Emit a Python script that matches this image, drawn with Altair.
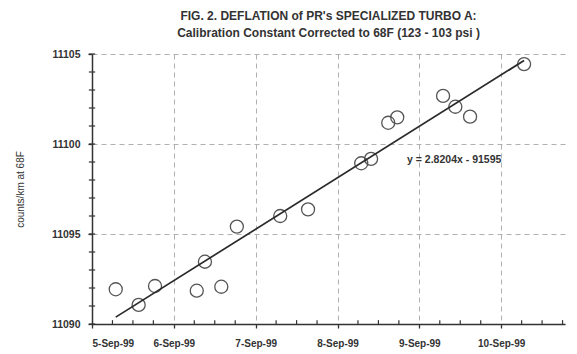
import altair as alt
import pandas as pd

# Day of September 1999 (fractional) and calibration constant (counts/km at 68F)
days = [5.29, 5.57, 5.77, 6.28, 6.38, 6.58, 6.77, 7.30, 7.64,
        8.29, 8.41, 8.62, 8.73, 9.29, 9.44, 9.62, 10.28]
counts = [11091.93, 11091.06, 11092.11, 11091.85, 11093.46, 11092.07, 11095.41,
          11096.00, 11096.37, 11098.93, 11099.17, 11101.18, 11101.48,
          11102.67, 11102.07, 11101.52, 11104.44]

x_major = [5, 6, 7, 8, 9, 10]
x_minor = [d + q for d in range(5, 11) for q in (0.25, 0.5, 0.75)]
y_major = [11090, 11095, 11100, 11105]
y_minor = list(range(11090, 11106))
x_min, x_max = 5, 10.78
y_min, y_max = 11090, 11105

title_lines = ["FIG. 2. DEFLATION of PR's SPECIALIZED TURBO A:",
               "Calibration Constant Corrected to 68F (123 - 103 psi )"]
eq_label = ["y = 2.8204x - 91595"]
eq_x = [8.85]
eq_y = [11099.1]

df = pd.DataFrame({"day": days, "val": counts})
eq_df = pd.DataFrame({"day": eq_x, "val": eq_y, "label": eq_label})
xt = [v for v in x_minor if v < x_max]
xtick_df = pd.DataFrame({"day": xt, "val": [y_min] * len(xt)})
ytick_df = pd.DataFrame({"day": [x_min] * len(y_minor), "val": y_minor})

FONT = "Liberation Sans"
INK = "#333333"

xscale = alt.Scale(domain=[x_min, x_max], nice=False, zero=False)
yscale = alt.Scale(domain=[y_min, y_max], nice=False, zero=False)

xaxis = alt.Axis(values=x_major, labelExpr="datum.value + '-Sep-99'",
                 title=None, grid=True, gridDash=[5, 4], gridColor="#b0b0b0",
                 domainColor=INK, domainWidth=1.5, tickColor=INK, tickWidth=1.3,
                 tickSize=4, labelPadding=10, labelFontSize=10, labelFontWeight="bold",
                 labelColor=INK, labelFont=FONT, orient="bottom")
yaxis = alt.Axis(values=y_major, format="d", title="counts/km at 68F",
                 grid=True, gridDash=[5, 4], gridColor="#b0b0b0",
                 domainColor=INK, domainWidth=1.5, tickColor=INK, tickWidth=1.3,
                 tickSize=4, labelPadding=8, labelFontSize=10.5, labelFontWeight="bold",
                 labelColor=INK, labelFont=FONT, orient="left",
                 titleFont=FONT, titleFontSize=10, titleFontWeight="normal",
                 titleColor=INK, titleX=-72, titleY=135, titleAngle=270,
                 titleAlign="center", titleBaseline="middle")

X = alt.X("day:Q", scale=xscale, axis=xaxis)
Y = alt.Y("val:Q", scale=yscale, axis=yaxis)

xticks = alt.Chart(xtick_df).mark_point(
    shape="M0,-1L0,0", size=60, stroke=INK, strokeWidth=1.2, filled=False,
    opacity=1).encode(x=X, y=Y)
yticks = alt.Chart(ytick_df).mark_point(
    shape="M-1,0L1,0", size=40, stroke=INK, strokeWidth=1.2, filled=False,
    opacity=1).encode(x=X, y=Y)

points = alt.Chart(df).mark_point(filled=False, size=170, strokeWidth=1.3,
                                  color="#555555", opacity=1).encode(x=X, y=Y)

trend = alt.Chart(df).transform_regression("day", "val").mark_line(
    color="#2a2a2a", strokeWidth=1.7).encode(x=X, y=Y)

eq = alt.Chart(eq_df).mark_text(align="left", baseline="middle", font=FONT,
                                fontSize=10.5, fontWeight="bold", color=INK).encode(
    x=X, y=Y, text="label:N",
)

chart = alt.layer(xticks, yticks, points, trend, eq).properties(
    width=473, height=270,
    autosize=alt.AutoSizeParams(type="none"),
    padding={"left": 84, "top": 46, "right": 4, "bottom": 30},
    background="white",
    title=alt.TitleParams(text=title_lines, font=FONT, fontSize=12,
                          fontWeight="bold", color=INK, anchor="middle",
                          offset=9, lineHeight=17),
).configure_view(stroke=None)

chart.save("out.html", embed_options={"renderer": "svg", "actions": False})
